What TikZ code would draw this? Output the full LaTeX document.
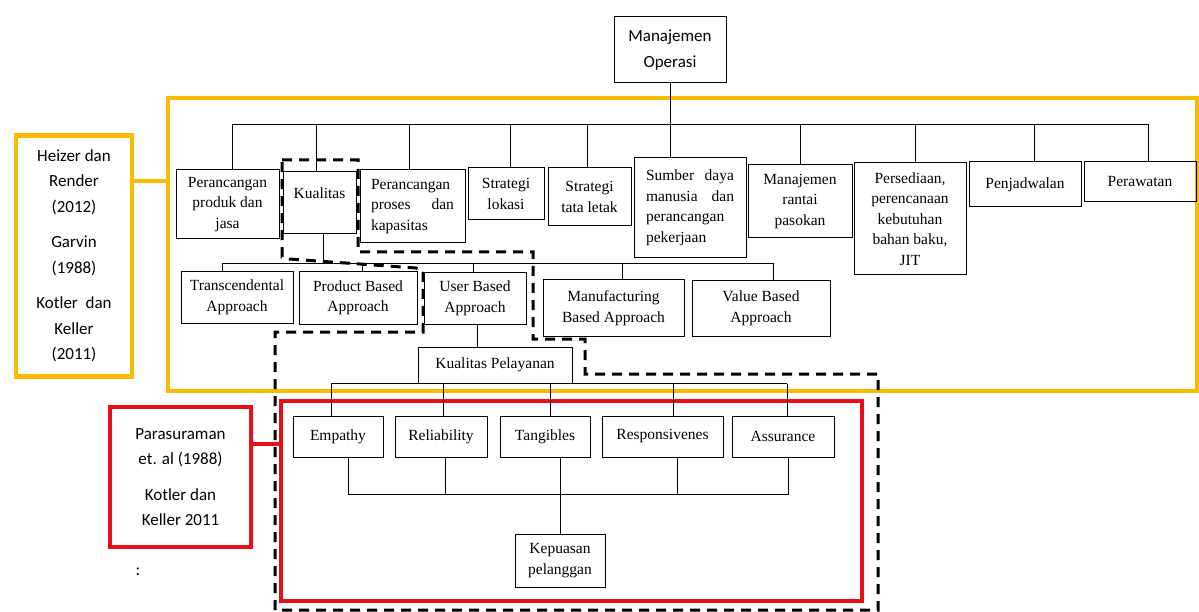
\documentclass[tikz,border=0pt]{standalone}
\usepackage{fontspec}
\setmainfont{Liberation Serif}
\newfontfamily\calibri{Carlito}
\definecolor{gold}{RGB}{247,187,0}
\definecolor{redline}{RGB}{232,16,22}
\begin{document}
\begin{tikzpicture}
	[	x=1pt,y=-1pt,
		box/.style={rectangle,draw=black,line width=1pt,align=center,inner sep=0pt,font=\fontsize{15.5}{20.5}\selectfont},
		sbox/.style={rectangle,draw=black,line width=1pt,align=center,inner sep=0pt,font=\calibri\fontsize{17}{25.5}\selectfont},
		gold frame/.style={rectangle,draw=gold,line width=4.5pt,inner sep=0pt},
		red frame/.style={rectangle,draw=redline,line width=4.5pt,inner sep=0pt},
		link/.style={draw=black,line width=0.9pt},
		group/.style={draw=black,line width=3pt,dash pattern=on 10pt off 7pt}
	]
	\useasboundingbox (0,0) rectangle (1199,612);
	\node[gold frame,minimum width=1029pt,minimum height=293pt] (yframe) at (682.5,244.5) {};
	\node[red frame,minimum width=581pt,minimum height=200pt] (rframe) at (571.5,501) {};
	\node[sbox,draw=gold,line width=4.5pt,minimum width=116pt,minimum height=241pt] (hr) at (74,256)
		{Heizer dan\\Render\\(2012)\\[10pt]Garvin\\(1988)\\[10pt]Kotler~~dan\\Keller\\(2011)};
	\node[sbox,draw=redline,line width=4.5pt,minimum width=141pt,minimum height=140pt] (para) at (180.5,477)
		{Parasuraman\\et. al (1988)\\[10pt]Kotler dan\\Keller 2011};
	\node[sbox,draw=none] (colon) at (138,572) {:};
	\coordinate (yj) at (168,181);
	\coordinate (rj) at (281,444);
	\draw[draw=gold,line width=4.5pt] (hr.east |- yj) -- (yj);
	\draw[draw=redline,line width=4.5pt] (para.east |- rj) -- (rj);

	\node[sbox,minimum width=112pt,minimum height=66pt] (mo) at (670,50) {Manajemen\\Operasi};
	\node[box,minimum width=103pt,minimum height=69pt] (p1) at (227.5,204.5) {Perancangan\\produk dan\\jasa};
	\node[box,minimum width=73pt,minimum height=62pt] (kual) at (319.5,203) {Kualitas\\~};
	\node[box,minimum width=105pt,minimum height=73pt,text width=83pt,align=left] (pp) at (412.5,206.5) {Perancangan\\proses\hfill dan\\kapasitas};
	\node[box,minimum width=76pt,minimum height=52pt] (sl) at (506,194) {Strategi\\lokasi};
	\node[box,minimum width=83pt,minimum height=58pt] (st) at (589.5,197) {Strategi\\tata letak};
	\node[box,minimum width=112pt,minimum height=100pt,text width=88pt,align=left] (sd) at (690,208) {Sumber\hfill daya\\manusia\hfill dan\\perancangan\\pekerjaan};
	\node[box,minimum width=104pt,minimum height=73pt] (mr) at (800,201.5) {Manajemen\\rantai\\pasokan};
	\node[box,minimum width=112pt,minimum height=112pt] (ps) at (910,219) {Persediaan,\\perencanaan\\kebutuhan\\bahan baku,\\JIT};
	\node[box,minimum width=112pt,minimum height=45pt] (pj) at (1025,184.5) {Penjadwalan};
	\node[box,minimum width=112pt,minimum height=40pt] (pw) at (1140,182) {Perawatan};

	\node[box,minimum width=112pt,minimum height=51pt] (tr) at (237,297.5) {Transcendental\\Approach};
	\node[box,minimum width=118pt,minimum height=52pt] (pb) at (358,298) {Product Based\\Approach};
	\node[box,minimum width=102pt,minimum height=51pt] (ub) at (475,298.5) {User Based\\Approach};
	\node[box,minimum width=141pt,minimum height=56pt] (mf) at (613.5,308) {Manufacturing\\Based Approach};
	\node[box,minimum width=138pt,minimum height=55pt] (vb) at (761,308.5) {Value Based\\Approach};

	\node[box,minimum width=154pt,minimum height=36pt] (kp) at (495,365) {Kualitas Pelayanan};

	\node[box,minimum width=90pt,minimum height=41pt] (em) at (338,436.5) {Empathy};
	\node[box,minimum width=92pt,minimum height=41pt] (re) at (441,436.5) {Reliability};
	\node[box,minimum width=90pt,minimum height=41pt] (ta) at (545,436.5) {Tangibles};
	\node[box,minimum width=121pt,minimum height=41pt] (rs) at (662.5,436.5) {Responsivenes};
	\node[box,minimum width=102pt,minimum height=41pt] (as) at (783,436.5) {Assurance};
	\node[box,minimum width=90pt,minimum height=53pt] (kep) at (560,560.5) {Kepuasan\\pelanggan};

	\coordinate (top) at (670,124);
	\draw[link] (mo.south) -- (mo.south |- sd.north);
	\draw[link] ([xshift=4.5pt]p1.north |- top) -- ([xshift=8pt]pw.north |- top);
	\draw[link] ([xshift=4.5pt]p1.north |- top) -- ([xshift=4.5pt]p1.north);
	\draw[link] ([xshift=-3.5pt]kual.north |- top) -- ([xshift=-3.5pt]kual.north);
	\draw[link] ([xshift=-3.5pt]pp.north |- top) -- ([xshift=-3.5pt]pp.north);
	\draw[link] ([xshift=4pt]sl.north |- top) -- ([xshift=4pt]sl.north);
	\draw[link] ([xshift=-2.5pt]st.north |- top) -- ([xshift=-2.5pt]st.north);
	\draw[link] (mr.north |- top) -- (mr.north);
	\draw[link] ([xshift=5pt]ps.north |- top) -- ([xshift=5pt]ps.north);
	\draw[link] ([xshift=9pt]pj.north |- top) -- ([xshift=9pt]pj.north);
	\draw[link] ([xshift=8pt]pw.north |- top) -- ([xshift=8pt]pw.north);

	\coordinate (mid) at (323,263);
	\draw[link] ([xshift=3.5pt]kual.south) -- ([xshift=3.5pt]kual.south |- mid);
	\draw[link] ([xshift=-15pt]tr.north |- mid) -- ([xshift=12pt]vb.north |- mid);
	\draw[link] ([xshift=-15pt]tr.north |- mid) -- ([xshift=-15pt]tr.north);
	\draw[link] ([xshift=4pt]pb.north |- mid) -- ([xshift=4pt]pb.north);
	\draw[link] ([xshift=-2pt]ub.north |- mid) -- ([xshift=-2pt]ub.north);
	\draw[link] ([xshift=8.5pt]mf.north |- mid) -- ([xshift=8.5pt]mf.north);
	\draw[link] ([xshift=12pt]vb.north |- mid) -- ([xshift=12pt]vb.north);

	\draw[link] ([xshift=2pt]ub.south) -- ([xshift=2pt]ub.south |- kp.north);
	\draw[link] ([xshift=-7pt]em.north |- kp.south) -- ([xshift=4pt]as.north |- kp.south);
	\draw[link] ([xshift=-7pt]em.north |- kp.south) -- ([xshift=-7pt]em.north);
	\draw[link] ([xshift=2pt]re.north |- kp.south) -- ([xshift=2pt]re.north);
	\draw[link] ([xshift=5pt]ta.north |- kp.south) -- ([xshift=5pt]ta.north);
	\draw[link] ([xshift=10.5pt]rs.north |- kp.south) -- ([xshift=10.5pt]rs.north);
	\draw[link] ([xshift=4pt]as.north |- kp.south) -- ([xshift=4pt]as.north);

	\coordinate (low) at (560,494);
	\draw[link] ([xshift=10pt]em.south) -- ([xshift=10pt]em.south |- low) -- ([xshift=5pt]as.south |- low) -- ([xshift=5pt]as.south);
	\draw[link] ([xshift=4pt]re.south) -- ([xshift=4pt]re.south |- low);
	\draw[link] ([xshift=14.5pt]rs.south) -- ([xshift=14.5pt]rs.south |- low);
	\draw[link] ([xshift=15pt]ta.south) -- (kep.north);

	\draw[group] (282,160) -- (358,160) -- (358,252) -- (533,252) -- (533,339) -- (585,339) -- (585,374) -- (878,374) -- (878,610) -- (275,610) -- (275,332) -- (423,332) -- (423,271) -- (416,268) -- (289,259) -- (282,257) -- cycle;
\end{tikzpicture}
\end{document}
